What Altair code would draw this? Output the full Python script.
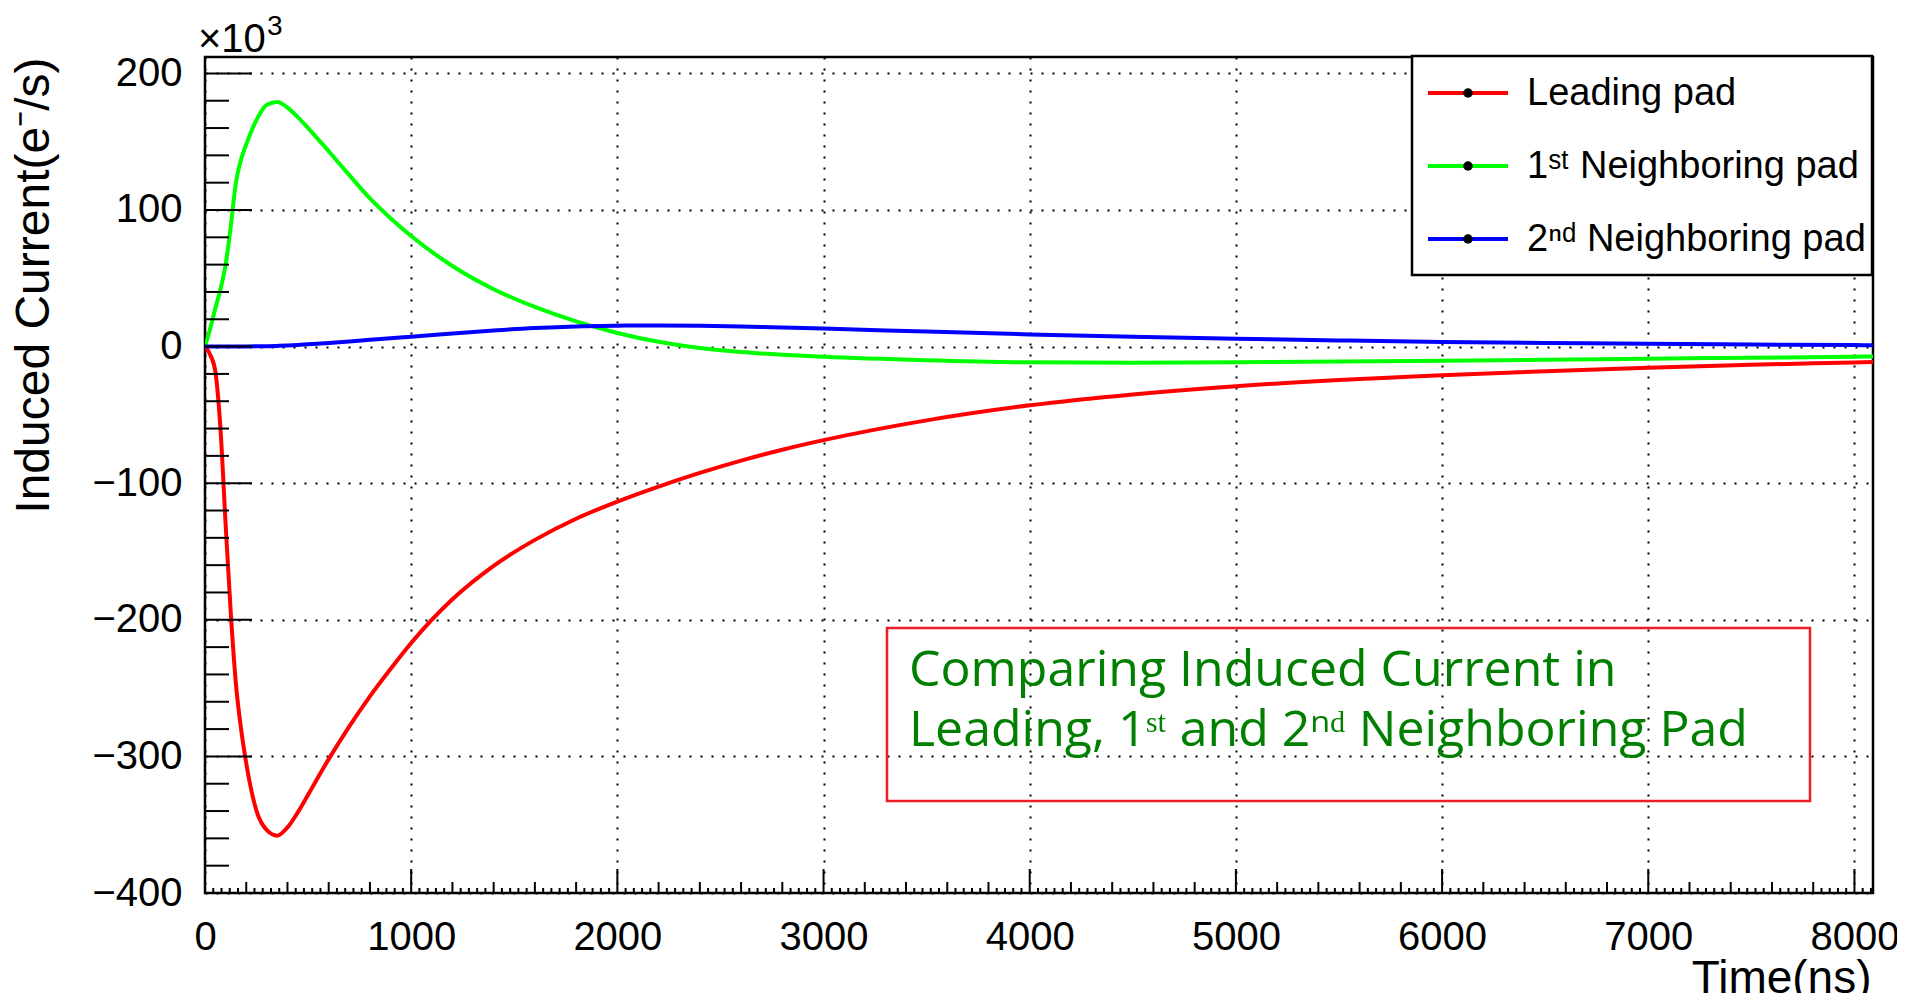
import altair as alt
import pandas as pd

# ---- data (time in ns, current in 10^3 e-/s) ----
time_ns = [0, 25, 50, 75, 100, 125, 150, 175, 200, 250, 300, 350, 400, 450, 500,
           600, 700, 800, 900, 1000, 1200, 1400, 1600, 1800, 2000, 2200, 2400, 2600,
           2800, 3000, 3500, 4000, 4500, 5000, 5500, 6000, 6500, 7000, 7500, 8000, 8090]
leading = [0, -6, -18, -60, -130, -195, -247, -280, -305, -340, -354, -358, -352, -341, -328,
           -302, -278, -256, -236, -217, -185, -160.5, -141.5, -126, -113.5, -102.5, -92.5, -83.5,
           -75.5, -68.5, -54, -43, -35, -29, -24.5, -21, -18, -15.5, -13.3, -11.6, -11.3]
first_nb = [0, 13, 28, 42, 60, 88, 120, 137, 148, 166, 177, 179, 175, 168, 160,
            143, 125.5, 108.5, 94, 81, 59, 42, 29, 18.5, 10, 3.5, -1, -4,
            -6, -7.5, -10, -11.5, -11.8, -11.5, -11, -10.4, -9.7, -8.9, -8.1, -7.4, -7.2]
second_nb = [0, 0, 0, 0, 0, 0, 0, 0, 0.1, 0.2, 0.3, 0.5, 0.8, 1.2, 1.7,
             2.7, 3.8, 5, 6.1, 7.2, 9.6, 11.8, 13.6, 14.8, 15.3, 15.5, 15.3, 14.7,
             14, 13.2, 11, 8.9, 7.2, 5.8, 4.5, 3.4, 2.7, 2.1, 1.5, 1.1, 1.0]

series_names = ["Leading pad", "1ˢᵗ Neighboring pad", "2ⁿᵈ Neighboring pad"]
series_colors = ["#ff0000", "#00ff00", "#0000ff"]

x_major = list(range(0, 8001, 1000))
x_minor = [v for v in range(0, 8081, 200) if v % 1000]
x_tert = [v for v in range(0, 8081, 40) if v % 200]
y_major = list(range(-400, 201, 100))
y_minor = [v for v in range(-400, 201, 20) if v % 100]

title_text = "Current Induction"
exp_base, exp_power = "×10", "3"
note_lines = ["Comparing Induced Current in", "Leading, 1ˢᵗ and 2ⁿᵈ Neighboring Pad"]

# ---- layout constants ----
W, H = 1668, 836
FONT = "Liberation Sans"

rows = []
for name, vals in zip(series_names, [leading, first_nb, second_nb]):
    for t, v in zip(time_ns, vals):
        rows.append({"time": t, "current": v, "series": name})
df = pd.DataFrame(rows)

xs = alt.Scale(domain=[0, 8090], nice=False, zero=False)
ys = alt.Scale(domain=[-400, 212], nice=False, zero=False)

x_axis = alt.Axis(
    values=x_major, grid=True, gridDash=[2, 9], gridColor="black", gridWidth=2,
    gridOpacity=1, ticks=False, domain=False, labelFontSize=40, labelPadding=24,
    labelFlush=False, labelOverlap=False, format="d",
    title="Time(ns)", titleFontSize=46, titleX=1666, titleY=99,
    titleAlign="right", titleBaseline="alphabetic")
y_axis = alt.Axis(
    values=y_major, grid=True, gridDash=[2, 9], gridColor="black", gridWidth=2,
    gridOpacity=1, ticks=False, domain=False, labelFontSize=40, labelPadding=23,
    labelOverlap=False, format="d",
    title="Induced Current(e⁻/s)", titleFontSize=48, titleX=-157, titleY=0,
    titleAngle=-90, titleAlign="right", titleBaseline="alphabetic")

lines = alt.Chart(df).mark_line(strokeWidth=4, interpolate="monotone", clip=True).encode(
    x=alt.X("time:Q", scale=xs, axis=x_axis),
    y=alt.Y("current:Q", scale=ys, axis=y_axis),
    color=alt.Color("series:N", scale=alt.Scale(domain=series_names, range=series_colors),
                    legend=None),
    order=alt.Order("time:Q"),
)

def vticks(vals, length):
    return alt.Chart(pd.DataFrame({"v": vals})).mark_rule(color="black", strokeWidth=2).encode(
        x=alt.X("v:Q", scale=xs, axis=x_axis), y=alt.value(H), y2=alt.value(H - length))

def hticks(vals, length):
    return alt.Chart(pd.DataFrame({"v": vals})).mark_rule(color="black", strokeWidth=2).encode(
        y=alt.Y("v:Q", scale=ys, axis=y_axis), x=alt.value(0), x2=alt.value(length))

ticks = [vticks(x_major, 24), vticks(x_minor, 11), vticks(x_tert, 5),
         hticks(y_major, 47), hticks(y_minor, 24)]

one = pd.DataFrame({"k": [0]})

# x10^3 exponent label
exp_label = alt.Chart(one).mark_text(
    font=FONT, fontSize=40, align="left", baseline="alphabetic", color="black").encode(
    x=alt.value(-7), y=alt.value(-5), text=alt.value(exp_base))
exp_sup = alt.Chart(one).mark_text(
    font=FONT, fontSize=28, align="left", baseline="alphabetic", color="black").encode(
    x=alt.value(62), y=alt.value(-22), text=alt.value(exp_power))

# (mostly clipped) title at top
title_mark = alt.Chart(one).mark_text(
    font=FONT, fontSize=46, align="center", baseline="alphabetic", color="black").encode(
    x=alt.value(W / 2), y=alt.value(-50), text=alt.value(title_text))

# legend box
leg_box = alt.Chart(one).mark_rect(fill="white", stroke="black", strokeWidth=2.5).encode(
    x=alt.value(1207), x2=alt.value(1667), y=alt.value(-1), y2=alt.value(218))
leg_layers = [leg_box]
for i, (name, col) in enumerate(zip(series_names, series_colors)):
    yy = 36 + 73 * i
    d = pd.DataFrame({"label": [name]})
    leg_layers.append(alt.Chart(d).mark_rule(color=col, strokeWidth=4).encode(
        x=alt.value(1223), x2=alt.value(1303), y=alt.value(yy)))
    leg_layers.append(alt.Chart(d).mark_circle(color="black", opacity=1, size=90).encode(
        x=alt.value(1263), y=alt.value(yy)))
    leg_layers.append(alt.Chart(d).mark_text(
        font=FONT, fontSize=38, align="left", baseline="middle", color="black").encode(
        x=alt.value(1322), y=alt.value(yy + 1), text="label:N"))

# annotation box
note_box = alt.Chart(one).mark_rect(fill=None, stroke="#ee1c25", strokeWidth=2.5).encode(
    x=alt.value(682), x2=alt.value(1605), y=alt.value(571), y2=alt.value(744))
note_layers = []
for i, line in enumerate(note_lines):
    note_layers.append(alt.Chart(pd.DataFrame({"line": [line]})).mark_text(
        font="Open Sans", fontSize=50, align="left", baseline="middle", color="#007f00").encode(
        x=alt.value(704), y=alt.value(614 + 60 * i), text="line:N"))

chart = alt.layer(
    lines, *ticks, exp_label, exp_sup, title_mark, *leg_layers, note_box, *note_layers
).properties(
    width=W, height=H,
    autosize=alt.AutoSizeParams(type="none"),
    padding={"left": 197, "top": 49, "right": 24, "bottom": 100},
    background="white",
).configure_axis(
    labelFont=FONT, titleFont=FONT, titleFontWeight="normal",
    labelColor="black", titleColor="black",
).configure_view(stroke="black", strokeWidth=2.5)

chart.save("out.html", embed_options={"renderer": "svg", "actions": False})
